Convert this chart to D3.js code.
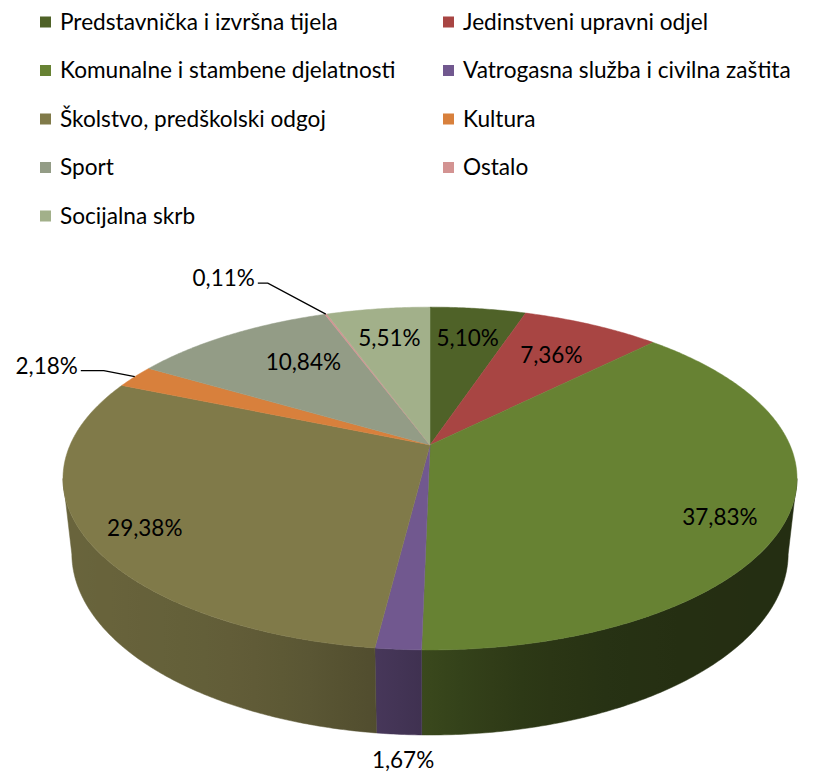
<!DOCTYPE html>
<html>
<head>
<meta charset="utf-8">
<script src="https://cdnjs.cloudflare.com/ajax/libs/d3/7.8.5/d3.min.js"></script>
<style>
  body { margin: 0; background: #fff; }
  text { font-family: Lato, "Open Sans", sans-serif; fill: #000; }
</style>
</head>
<body>
<script>

// data
var categories = [
  "Predstavnička i izvršna tijela",
  "Jedinstveni upravni odjel",
  "Komunalne i stambene djelatnosti",
  "Vatrogasna služba i civilna zaštita",
  "Školstvo, predškolski odgoj",
  "Kultura",
  "Sport",
  "Ostalo",
  "Socijalna skrb"
];
var shares = [5.10, 7.36, 37.83, 1.67, 29.38, 2.18, 10.84, 0.11, 5.51];
var colors = ["#4f6228", "#a84543", "#678233", "#71588f", "#807a49", "#d8803c", "#939c86", "#d39392", "#a2b08a"];

var W = 822, H = 775;
var svg = d3.select("body").append("svg")
  .attr("width", W)
  .attr("height", H);
var defs = svg.append("defs");

// percent format with decimal comma
var hr = d3.formatLocale({decimal: ",", thousands: ".", grouping: [3], currency: ["", ""]});
var pct = function(v) { return hr.format(".2f")(v) + "%"; };

// ---- legend ----
var legend = svg.append("g");
// fit the font so the first entry is as wide as in the picture
var probe = svg.append("text").style("font-size", "100px").text(categories[0]);
var fontSize = Math.min(26, 100 * 278 / probe.node().getComputedTextLength());
probe.remove();

var rowStep = 48.5, colX = [40, 443];
categories.forEach(function(c, i) {
  var row = Math.floor(i / 2), col = i % 2;
  var y = 22 + row * rowStep;
  legend.append("rect")
    .attr("x", colX[col]).attr("y", y - 5.5)
    .attr("width", 11).attr("height", 11)
    .attr("fill", colors[i]);
  legend.append("text")
    .attr("x", colX[col] + 20).attr("y", y)
    .attr("dy", "0.35em")
    .style("font-size", fontSize + "px")
    .text(c);
});

// ---- 3d pie ----
var cx = 430, cy = 445, focal = 1636;
var rad = 0.22, depth = 0.0518, sinP = 0.458, cosP = Math.sqrt(1 - sinP * sinP);

// t: angle clockwise from the back, r: 0..1, z: 0 top .. -1 bottom
function project(t, r, z) {
  var x = rad * r * Math.sin(t), y = rad * r * Math.cos(t), zz = z * depth;
  var vy = y + cosP, vz = zz - sinP;
  var d = vy * cosP - vz * sinP;
  var sy = vy * sinP + vz * cosP;
  return [cx + focal * x / d, cy - focal * sy / d];
}

// visible part of the wall lies between the two silhouette tangents
var tRight = Math.acos(-rad * cosP), tLeft = 2 * Math.PI - tRight;

var pie = d3.pie().sort(null).value(function(d) { return d; });
var arcs = pie(shares);
var step = Math.PI / 360;

function shade(col, t) {
  var s = Math.sin(t);
  var k = 0.55 - 0.2 * Math.tanh(3 * s) + 0.08 * Math.max(0, -s);
  var c = d3.rgb(col);
  return d3.rgb(c.r * k, c.g * k, c.b * k).formatHex();
}

var xL = project(tLeft, 1, 0)[0], xR = project(tRight, 1, 0)[0];
arcs.forEach(function(a, i) {
  var g = defs.append("linearGradient")
    .attr("id", "side" + i)
    .attr("gradientUnits", "userSpaceOnUse")
    .attr("x1", xL).attr("x2", xR).attr("y1", 0).attr("y2", 0);
  d3.range(0, 41).forEach(function(j) {
    var t = tLeft - (tLeft - tRight) * j / 40;
    g.append("stop")
      .attr("offset", (project(t, 1, 0)[0] - xL) / (xR - xL))
      .attr("stop-color", shade(colors[i], t));
  });
});

var plot = svg.append("g");

function rim(t0, t1, z) {
  var n = Math.max(2, Math.ceil(Math.abs(t1 - t0) / step)), pts = [];
  for (var k = 0; k <= n; k++) pts.push(project(t0 + (t1 - t0) * k / n, 1, z));
  return pts;
}

// walls
arcs.forEach(function(a, i) {
  var t0 = Math.max(a.startAngle, tRight), t1 = Math.min(a.endAngle, tLeft);
  if (t1 <= t0) return;
  var pts = rim(t0, t1, 0).concat(rim(t1, t0, -1));
  plot.append("path")
    .attr("d", "M" + pts.join("L") + "Z")
    .attr("fill", "url(#side" + i + ")")
    .attr("stroke", "url(#side" + i + ")")
    .attr("stroke-width", 0.5);
});

// top faces
plot.selectAll("path.top")
  .data(arcs)
  .join("path")
  .attr("class", "top")
  .attr("d", function(a) {
    var pts = [project(0, 0, 0)].concat(rim(a.startAngle, a.endAngle, 0));
    return "M" + pts.join("L") + "Z";
  })
  .attr("fill", function(a, i) { return colors[i]; })
  .attr("stroke", function(a, i) { return colors[i]; })
  .attr("stroke-width", 0.5);

// ---- data labels ----
var labelFont = 22.5;
var inside = {
  0: {r: 0.75, dy: 0},
  1: {r: 0.72, dy: 0},
  2: {r: 0.82, dy: 16},
  4: {r: 0.84, dy: 8},
  6: {r: 0.6, dy: -13},
  8: {r: 0.75, dy: 0}
};
var labels = svg.append("g").style("font-size", labelFont + "px");

arcs.forEach(function(a, i) {
  var o = inside[i];
  if (!o) return;
  var tm = (a.startAngle + a.endAngle) / 2;
  var p = project(tm, o.r, 0);
  labels.append("text")
    .attr("x", p[0]).attr("y", p[1] + o.dy)
    .attr("dy", "0.35em")
    .attr("text-anchor", "middle")
    .text(pct(shares[i]));
});

// small slice below the front edge
(function() {
  var a = arcs[3], tm = (a.startAngle + a.endAngle) / 2;
  var p = project(tm, 1, -1);
  labels.append("text")
    .attr("x", p[0] + 4).attr("y", p[1] + 26)
    .attr("dy", "0.35em")
    .attr("text-anchor", "middle")
    .text(pct(shares[3]));
})();

// small slices at the back with leader lines
var leaders = {5: {off: [-31, -6], run: 23}, 7: {off: [-58, -31], run: 10}};
Object.keys(leaders).forEach(function(key) {
  var i = +key, a = arcs[i], L = leaders[key];
  var tm = (a.startAngle + a.endAngle) / 2;
  var p = project(tm, 1, 0);
  var e = [p[0] + L.off[0], p[1] + L.off[1]];
  var h = [e[0] - L.run, e[1]];
  labels.append("path")
    .attr("d", "M" + [p, e, h].join("L"))
    .attr("fill", "none")
    .attr("stroke", "#000")
    .attr("stroke-width", 1.3);
  labels.append("text")
    .attr("x", h[0] - 3).attr("y", h[1] - 5)
    .attr("dy", "0.35em")
    .attr("text-anchor", "end")
    .text(pct(shares[i]));
});

</script>
</body>
</html>
